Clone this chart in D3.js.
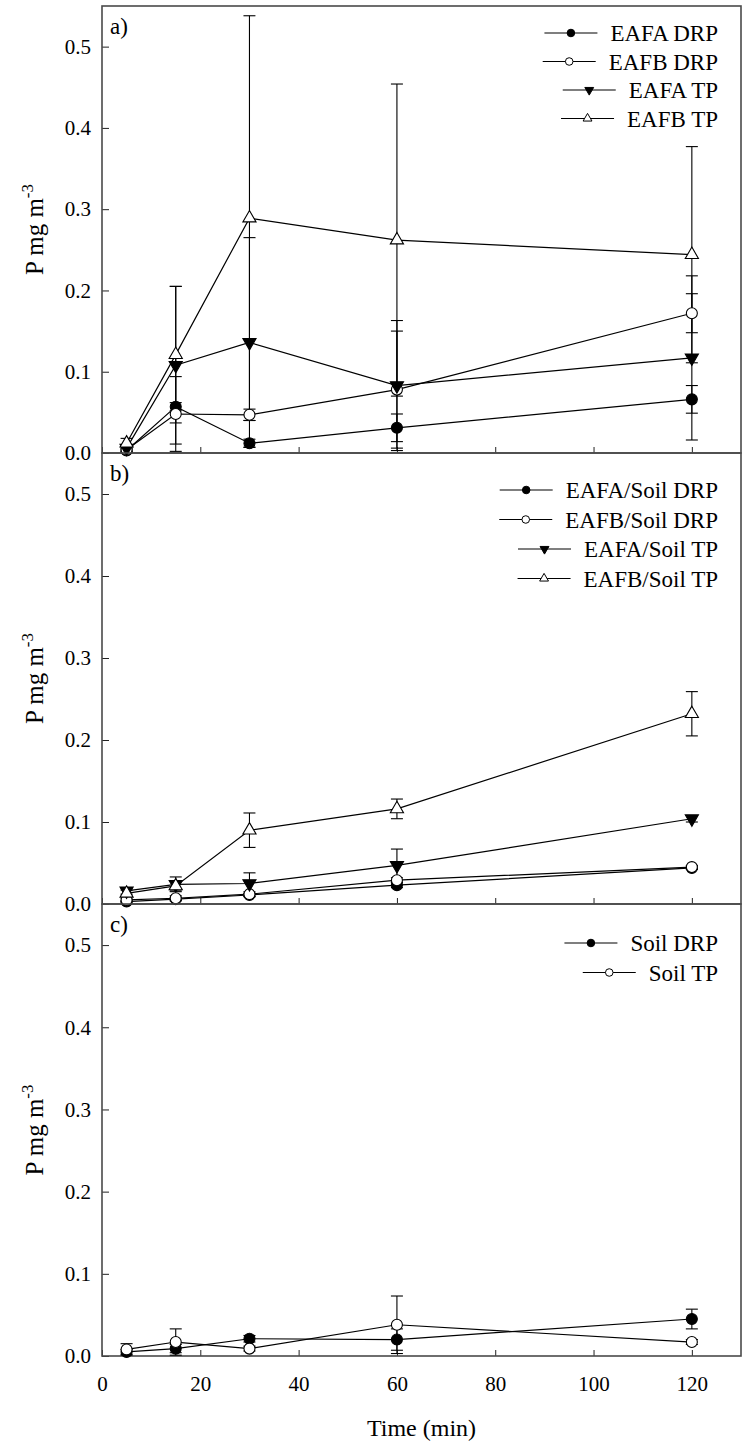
<!DOCTYPE html>
<html>
<head>
<meta charset="utf-8">
<script src="https://cdn.jsdelivr.net/npm/d3@7"></script>
<style>
  body { margin: 0; background: #fff; }
  svg { display: block; font-family: "Liberation Serif", "Times New Roman", serif; }
</style>
</head>
<body>
<svg id="chart" width="746" height="1443"></svg>
<script>
// sampling times (min) and axis ticks
const times = [5, 15, 30, 60, 120];
const xTicks = [0, 20, 40, 60, 80, 100, 120];
const yTicks = [0, 0.1, 0.2, 0.3, 0.4, 0.5];

// panel a) EAF only
const eafaDrp = [0.003, 0.057, 0.012, 0.031, 0.066];
const eafaDrpErr = [0.002, 0.005, 0.005, 0.017, 0.017];
const eafbDrp = [0.004, 0.048, 0.047, 0.078, 0.172];
const eafbDrpErr = [0.003, 0.046, 0.007, 0.072, 0.024];
const eafaTp = [0.006, 0.108, 0.136, 0.083, 0.117];
const eafaTpErr = [0.004, 0.097, 0.129, 0.080, 0.101];
const eafbTp = [0.012, 0.121, 0.289, 0.262, 0.244];
const eafbTpErr = [0.006, 0.084, 0.249, 0.192, 0.133];

// panel b) EAF/Soil
const mixADrp = [0.003, 0.006, 0.011, 0.023, 0.044];
const mixADrpErr = [0.001, 0.002, 0.002, 0.003, 0.002];
const mixBDrp = [0.005, 0.007, 0.012, 0.029, 0.045];
const mixBDrpErr = [0.002, 0.003, 0.003, 0.003, 0.002];
const mixATp = [0.016, 0.024, 0.025, 0.047, 0.104];
const mixATpErr = [0.004, 0.009, 0.013, 0.020, 0.004];
const mixBTp = [0.013, 0.022, 0.090, 0.116, 0.232];
const mixBTpErr = [0.004, 0.006, 0.021, 0.012, 0.027];

// panel c) Soil
const soilDrp = [0.005, 0.009, 0.021, 0.020, 0.045];
const soilDrpErr = [0.003, 0.005, 0.004, 0.013, 0.012];
const soilTp = [0.008, 0.017, 0.009, 0.038, 0.017];
const soilTpErr = [0.007, 0.016, 0.003, 0.035, 0.003];

const svg = d3.select("#chart");
const font = '"Liberation Serif", "Times New Roman", serif';
const left = 102, right = 741;
const panelTops = [6, 453, 904];
const panelBottoms = [453, 904, 1356];

const x = d3.scaleLinear().domain([0, 130]).range([left, right]);

// marker styles
const styles = {
  fillCircle: { type: d3.symbolCircle, fill: "#000", rot: 0 },
  openCircle: { type: d3.symbolCircle, fill: "#fff", rot: 0 },
  fillDown: { type: d3.symbolTriangle, fill: "#000", rot: 180 },
  openUp: { type: d3.symbolTriangle, fill: "#fff", rot: 0 }
};

const panels = [
  { tag: "a)", series: [
    { name: "EAFA DRP", v: eafaDrp, e: eafaDrpErr, s: "fillCircle" },
    { name: "EAFB DRP", v: eafbDrp, e: eafbDrpErr, s: "openCircle" },
    { name: "EAFA TP", v: eafaTp, e: eafaTpErr, s: "fillDown" },
    { name: "EAFB TP", v: eafbTp, e: eafbTpErr, s: "openUp" }
  ], legendY: 33, legendGap: 28.5 },
  { tag: "b)", series: [
    { name: "EAFA/Soil DRP", v: mixADrp, e: mixADrpErr, s: "fillCircle" },
    { name: "EAFB/Soil DRP", v: mixBDrp, e: mixBDrpErr, s: "openCircle" },
    { name: "EAFA/Soil TP", v: mixATp, e: mixATpErr, s: "fillDown" },
    { name: "EAFB/Soil TP", v: mixBTp, e: mixBTpErr, s: "openUp" }
  ], legendY: 490, legendGap: 29.5 },
  { tag: "c)", series: [
    { name: "Soil DRP", v: soilDrp, e: soilDrpErr, s: "fillCircle" },
    { name: "Soil TP", v: soilTp, e: soilTpErr, s: "openCircle" }
  ], legendY: 943, legendGap: 29.5 }
];

function symbolPath(st, size) {
  return d3.symbol().type(styles[st].type).size(size)();
}

panels.forEach((p, pi) => {
  const top = panelTops[pi], bottom = panelBottoms[pi];
  const y = d3.scaleLinear().domain([0, 0.55]).range([bottom, top]);
  const g = svg.append("g");

  // axes with inward ticks
  g.append("g")
    .attr("transform", `translate(0,${bottom})`)
    .call(d3.axisBottom(x).tickValues(xTicks).tickSizeInner(-6).tickSizeOuter(0)
      .tickFormat(pi === 2 ? d3.format("d") : ""))
    .attr("font-family", font).attr("font-size", 21)
    .call(a => a.select(".domain").remove())
    .call(a => a.selectAll("line").attr("stroke", "#222"))
    .call(a => a.selectAll("text").attr("fill", "#000").attr("dy", "1.5em"));

  g.append("g")
    .attr("transform", `translate(${left},0)`)
    .call(d3.axisLeft(y).tickValues(yTicks).tickSizeInner(-7).tickSizeOuter(0)
      .tickFormat(d3.format(".1f")))
    .attr("font-family", font).attr("font-size", 21)
    .call(a => a.select(".domain").remove())
    .call(a => a.selectAll("line").attr("stroke", "#222"))
    .call(a => a.selectAll("text").attr("fill", "#000").attr("x", -11));

  // frame
  g.append("rect")
    .attr("x", left).attr("y", top)
    .attr("width", right - left).attr("height", bottom - top)
    .attr("fill", "none").attr("stroke", "#4a4a4a").attr("stroke-width", 1.6);

  // panel tag
  g.append("text").attr("x", 110).attr("y", top + 28)
    .attr("font-size", 23).text(p.tag);

  // y title
  const yt = g.append("text")
    .attr("transform", `translate(43,${(top + bottom) / 2}) rotate(-90)`)
    .attr("text-anchor", "middle").attr("font-size", 25);
  yt.append("tspan").text("P mg m");
  yt.append("tspan").attr("font-size", 17).attr("dy", -10).text("-3");

  const line = d3.line().x((d, i) => x(times[i])).y(d => y(d));

  p.series.forEach(s => {
    const sg = g.append("g");
    sg.append("path").datum(s.v).attr("d", line)
      .attr("fill", "none").attr("stroke", "#000").attr("stroke-width", 1.2);

    const eb = sg.selectAll(".eb").data(s.v).enter().append("g");
    eb.append("line")
      .attr("x1", (d, i) => x(times[i])).attr("x2", (d, i) => x(times[i]))
      .attr("y1", (d, i) => y(d + s.e[i])).attr("y2", (d, i) => y(Math.max(0, d - s.e[i])))
      .attr("stroke", "#000").attr("stroke-width", 1.1);
    [1, -1].forEach(sign => {
      eb.append("line")
        .attr("x1", (d, i) => x(times[i]) - 6).attr("x2", (d, i) => x(times[i]) + 6)
        .attr("y1", (d, i) => y(Math.max(0, d + sign * s.e[i])))
        .attr("y2", (d, i) => y(Math.max(0, d + sign * s.e[i])))
        .attr("stroke", "#000").attr("stroke-width", 1.1);
    });
  });

  // markers on top
  p.series.forEach(s => {
    const st = styles[s.s];
    const size = st.type === d3.symbolCircle ? 95 : 75;
    g.selectAll(null).data(s.v).enter().append("path")
      .attr("d", symbolPath(s.s, size))
      .attr("transform", (d, i) => `translate(${x(times[i])},${y(d)}) rotate(${st.rot})`)
      .attr("fill", st.fill).attr("stroke", "#000").attr("stroke-width", 1.1);
  });

  // legend, right-aligned at x=718
  const lg = g.append("g");
  p.series.forEach((s, i) => {
    const ly = p.legendY + i * p.legendGap;
    const t = lg.append("text").attr("y", ly + 8).attr("font-size", 23).text(s.name);
    const w = t.node().getComputedTextLength();
    const tx = 718 - w;
    t.attr("x", tx);
    lg.append("line").attr("x1", tx - 66).attr("x2", tx - 13)
      .attr("y1", ly).attr("y2", ly).attr("stroke", "#000").attr("stroke-width", 1.2);
    const st = styles[s.s];
    lg.append("path")
      .attr("d", symbolPath(s.s, st.type === d3.symbolCircle ? 45 : 34))
      .attr("transform", `translate(${tx - 39.5},${ly}) rotate(${st.rot})`)
      .attr("fill", st.fill).attr("stroke", "#000").attr("stroke-width", 1);
  });
});

// x title
svg.append("text").attr("x", x(65)).attr("y", 1436)
  .attr("text-anchor", "middle").attr("font-size", 24).text("Time (min)");
</script>
</body>
</html>
